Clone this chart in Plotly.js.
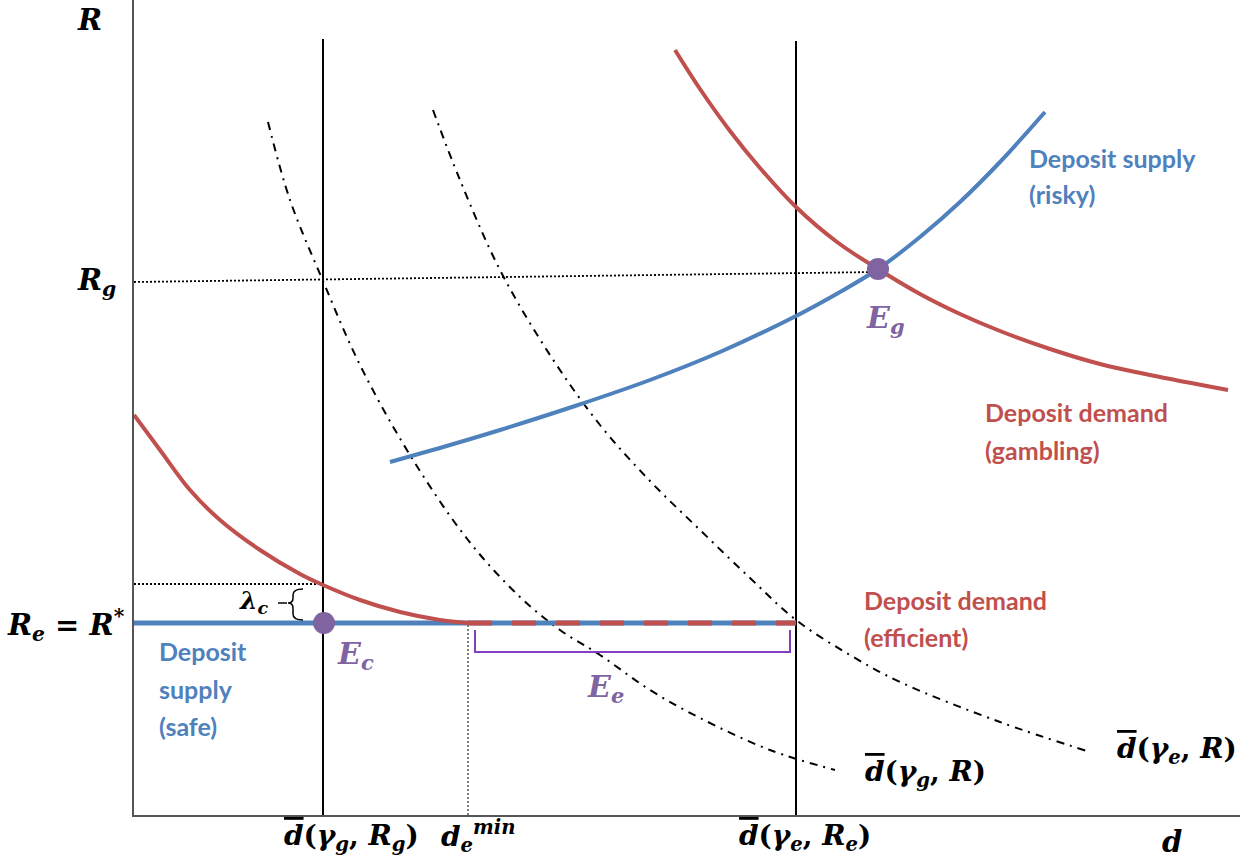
<!DOCTYPE html>
<html>
<head>
<meta charset="utf-8">
<script src="https://cdn.plot.ly/plotly-3.0.1.min.js"></script>
<style>html,body{margin:0;padding:0;background:#fff;}</style>
</head>
<body>
<div id="chart" style="width:1244px;height:865px;"></div>
<script>
// ---- data (conceptual units: d on x, R on y) ----
const dGammaG_Rg = 18.9;   // d̄(γg, Rg)
const dGammaE_Re = 66.2;   // d̄(γe, Re)
const dEmin = 33.4;        // d_e^min
const Rg = 53.3;
const RgEnd = 54.3;
const Re = 19.2;           // Re = R*
const ReLambda = 23.1;     // Re + λc
const topLine = 77.6;

const effDemandX = [0, 2.6, 5.6, 8.6, 12.6, 16.6, 18.9, 22.6, 26.6, 30.6, 33.4];
const effDemandY = [40.0, 36.5, 32.5, 29.5, 26.5, 24.1, 23.0, 21.5, 20.3, 19.5, 19.2];

const riskySupplyX = [25.6, 31.6, 36.6, 44.1, 51.6, 58.6, 66.2, 70.6, 74.4, 78.6, 82.6, 86.6, 91.1];
const riskySupplyY = [35.3, 37.0, 38.5, 40.9, 43.5, 46.3, 49.9, 52.3, 54.6, 57.8, 61.3, 65.3, 70.3];

const gambDemandX = [54.1, 56.6, 59.6, 62.6, 66.2, 70.3, 74.4, 78.6, 82.6, 86.6, 91.6, 96.6, 101.6, 109.4];
const gambDemandY = [76.5, 72.6, 68.4, 64.7, 60.8, 57.3, 54.6, 52.1, 50.1, 48.4, 46.6, 45.1, 44.0, 42.5];

const dbarGX = [13.4, 15.6, 18.9, 22.6, 27.6, 33.4, 38.6, 42.6, 46.6, 51.6, 56.6, 63.6, 70.1];
const dbarGY = [69.3, 61.5, 53.4, 45.0, 36.0, 27.5, 21.8, 18.5, 16.0, 12.5, 9.7, 6.5, 4.5];

const dbarEX = [29.9, 32.6, 36.6, 41.6, 46.6, 51.6, 56.6, 61.6, 66.2, 71.6, 76.6, 86.6, 95.6];
const dbarEY = [70.5, 63.5, 54.5, 46.0, 39.0, 33.4, 28.5, 23.7, 19.5, 16.0, 13.3, 9.3, 6.3];

const eqX = [19.0, 74.4];  // Ec, Eg
const eqY = [19.2, 54.6];

// ---- styles ----
const RED = '#C0504D', BLUE = '#4F81BD', PURPLE = '#8064A2';
const MATH = 'DejaVu Serif, Liberation Serif, serif';
const SANS = 'Lato, Open Sans, sans-serif';

const traces = [
  {x:[dGammaG_Rg, dGammaG_Rg], y:[0, topLine], mode:'lines', line:{color:'#000', width:2}},
  {x:[dGammaE_Re, dGammaE_Re], y:[0, topLine-0.2], mode:'lines', line:{color:'#000', width:2}},
  {x:[dEmin, dEmin], y:[0, Re], mode:'lines', line:{color:'#000', width:1, dash:'2px,2px'}},
  {x:[0, eqX[1]], y:[Rg, RgEnd], mode:'lines', line:{color:'#000', width:1.8, dash:'2px,2px'}},
  {x:[0, dGammaG_Rg], y:[ReLambda, ReLambda], mode:'lines', line:{color:'#000', width:1.8, dash:'2px,2px'}},
  {x:dbarGX, y:dbarGY, mode:'lines', line:{color:'#000', width:2, dash:'8px,6px,2px,6px', shape:'spline'}},
  {x:dbarEX, y:dbarEY, mode:'lines', line:{color:'#000', width:2, dash:'8px,6px,2px,6px', shape:'spline'}},
  {x:[0, dGammaE_Re], y:[Re, Re], mode:'lines', line:{color:BLUE, width:5}},
  {x:[dEmin, dGammaE_Re], y:[Re, Re], mode:'lines', line:{color:RED, width:5, dash:'24px,20px'}},
  {x:effDemandX, y:effDemandY, mode:'lines', line:{color:RED, width:4, shape:'spline'}},
  {x:riskySupplyX, y:riskySupplyY, mode:'lines', line:{color:BLUE, width:4, shape:'spline'}},
  {x:gambDemandX, y:gambDemandY, mode:'lines', line:{color:RED, width:4, shape:'spline'}},
  {x:eqX, y:eqY, mode:'markers', marker:{color:PURPLE, size:22}}
];

function ann(x, y, text, color, font, size, xanchor, ref) {
  return {x:x, y:y, xref:ref?'paper':'x', yref:ref?'paper':'y', text:text, showarrow:false,
    xanchor:xanchor||'center', yanchor:'middle',
    font:{family:font, size:size, color:color, weight:'bold'}};
}
const dbar = "<span style='text-decoration:overline'><i>d</i></span>";
const annotations = [
  ann(-0.0398, 0.9755, '<i>R</i>', '#000', MATH, 29, 'center', true),
  ann(-0.0335, 0.654, '<i>R</i><sub><i>g</i></sub>', '#000', MATH, 29, 'center', true),
  ann(-0.0063, 0.233, '<i>R</i><sub><i>e</i></sub> = <i>R</i><sup>*</sup>', '#000', MATH, 29, 'right', true),
  ann(0.9385, -0.0331, '<i>d</i>', '#000', MATH, 29, 'center', true),
  ann(0.1971, -0.0282, dbar + '(<i>γ</i><sub><i>g</i></sub>, <i>R</i><sub><i>g</i></sub>)', '#000', MATH, 28, 'center', true),
  ann(0.311, -0.0258, '<i>d</i><sub><i>e</i></sub><sup><i>min</i></sup>', '#000', MATH, 28, 'center', true),
  ann(0.6067, -0.0282, dbar + '(<i>γ</i><sub><i>e</i></sub>, <i>R</i><sub><i>e</i></sub>)', '#000', MATH, 28, 'center', true),
  ann(79.1, 4.2, dbar + '(<i>γ</i><sub><i>g</i></sub>, <i>R</i>)', '#000', MATH, 28),
  ann(104.3, 6.5, dbar + '(<i>γ</i><sub><i>e</i></sub>, <i>R</i>)', '#000', MATH, 28),
  ann(89.3, 65.7, 'Deposit supply', BLUE, SANS, 25, 'left'),
  ann(89.3, 62.1, '(risky)', BLUE, SANS, 25, 'left'),
  ann(84.9, 40.3, 'Deposit demand', RED, SANS, 25, 'left'),
  ann(84.9, 36.5, '(gambling)', RED, SANS, 25, 'left'),
  ann(72.8, 21.5, 'Deposit demand', RED, SANS, 25, 'left'),
  ann(72.8, 17.8, '(efficient)', RED, SANS, 25, 'left'),
  ann(2.3, 16.4, 'Deposit', BLUE, SANS, 25, 'left'),
  ann(2.3, 12.6, 'supply', BLUE, SANS, 25, 'left'),
  ann(2.3, 8.9, '(safe)', BLUE, SANS, 25, 'left'),
  ann(75.1, 49.6, '<i>E</i><sub><i>g</i></sub>', PURPLE, MATH, 30),
  ann(22.1, 16.0, '<i>E</i><sub><i>c</i></sub>', PURPLE, MATH, 30),
  ann(47.1, 12.7, '<i>E</i><sub><i>e</i></sub>', PURPLE, MATH, 30),
  ann(12.0, 21.3, '<i>λ</i><sub><i>c</i></sub>', '#000', MATH, 25)
];

const shapes = [
  {type:'path', xref:'x', yref:'y', path:'M 34.1,18.5 L 34.1,16.3 L 65.6,16.3 L 65.6,18.5',
   line:{color:'#7F3FBF', width:2}},
  {type:'path', xref:'x', yref:'y',
   path:'M 16.9,22.6 Q 15.9,22.6 15.9,22.0 L 15.9,21.7 Q 15.9,21.2 15.4,21.2 Q 15.9,21.2 15.9,20.7 L 15.9,20.1 Q 15.9,19.5 16.9,19.5',
   line:{color:'#000', width:1.5}},
  {type:'line', xref:'x', yref:'y', x0:14.4, x1:15.3, y0:21.2, y1:21.2, line:{color:'#000', width:1.5}}
];

const layout = {
  width:1244, height:865,
  margin:{l:134, r:4, t:0, b:50, pad:0},
  paper_bgcolor:'#fff', plot_bgcolor:'#fff',
  showlegend:false,
  xaxis:{range:[0,110.6], showgrid:false, zeroline:false, showticklabels:false, ticks:'',
         showline:true, linecolor:'#555', linewidth:2, fixedrange:true},
  yaxis:{range:[0,81.5], showgrid:false, zeroline:false, showticklabels:false, ticks:'',
         showline:true, linecolor:'#555', linewidth:2, fixedrange:true},
  annotations:annotations,
  shapes:shapes
};

Plotly.newPlot('chart', traces, layout, {displayModeBar:false, staticPlot:true});
</script>
</body>
</html>
